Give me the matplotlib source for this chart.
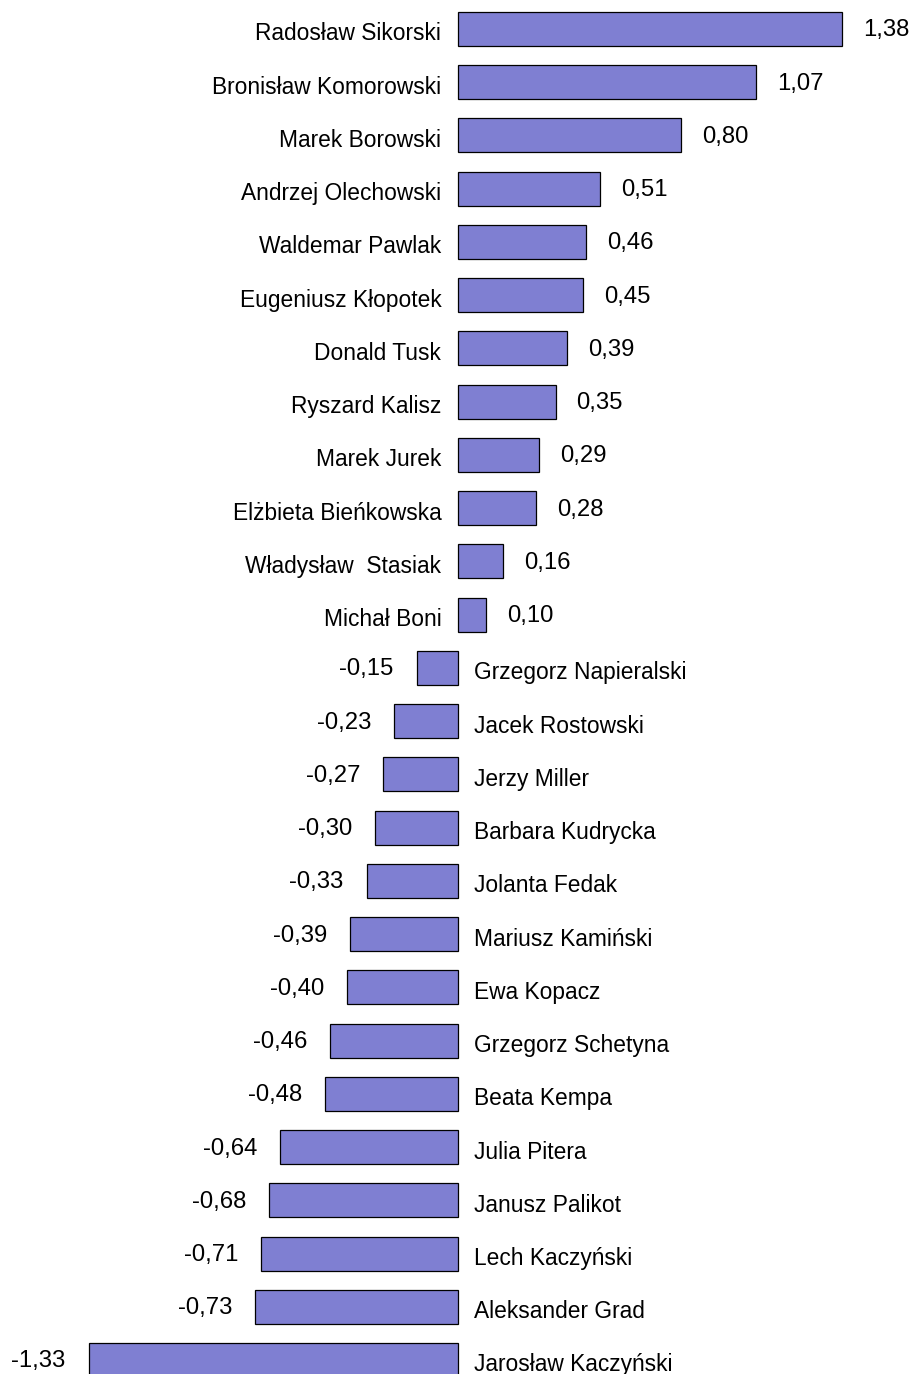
import matplotlib
matplotlib.use("Agg")
import matplotlib.pyplot as plt

names = [
    "Radosław Sikorski", "Bronisław Komorowski", "Marek Borowski", "Andrzej Olechowski",
    "Waldemar Pawlak", "Eugeniusz Kłopotek", "Donald Tusk", "Ryszard Kalisz",
    "Marek Jurek", "Elżbieta Bieńkowska", "Władysław  Stasiak", "Michał Boni",
    "Grzegorz Napieralski", "Jacek Rostowski", "Jerzy Miller", "Barbara Kudrycka",
    "Jolanta Fedak", "Mariusz Kamiński", "Ewa Kopacz", "Grzegorz Schetyna",
    "Beata Kempa", "Julia Pitera", "Janusz Palikot", "Lech Kaczyński",
    "Aleksander Grad", "Jarosław Kaczyński",
]
values = [
    1.38, 1.07, 0.80, 0.51, 0.46, 0.45, 0.39, 0.35, 0.29, 0.28, 0.16, 0.10,
    -0.15, -0.23, -0.27, -0.30, -0.33, -0.39, -0.40, -0.46, -0.48, -0.64,
    -0.68, -0.71, -0.73, -1.33,
]

plt.rcParams['font.family'] = ['Liberation Sans', 'DejaVu Sans']
FS_NAME = 16.4
FS_VAL = 17.2

fig = plt.figure(figsize=(9.15, 13.74), dpi=100)
ax = fig.add_axes([0, 0, 1, 1])
pos = list(range(len(values)))
ax.barh(pos, values, height=0.639, color='#7f7fd2', edgecolor='black', linewidth=0.9)

for i, (n, v) in enumerate(zip(names, values)):
    lab = f"{v:.2f}".replace('.', ',')
    if v >= 0:
        ax.annotate(n, (0, i), xytext=(-17, -11.5), textcoords='offset pixels',
                    ha='right', va='baseline', fontsize=FS_NAME)
        ax.annotate(lab, (v, i), xytext=(21, -7.5), textcoords='offset pixels',
                    ha='left', va='baseline', fontsize=FS_VAL)
    else:
        ax.annotate(n, (0, i), xytext=(16, -11.5), textcoords='offset pixels',
                    ha='left', va='baseline', fontsize=FS_NAME)
        ax.annotate(lab, (v, i), xytext=(-23, -7.5), textcoords='offset pixels',
                    ha='right', va='baseline', fontsize=FS_VAL)

ax.set_xlim(-1.6486, 1.6428)
ax.set_ylim(25.263, -0.5447)
ax.axis('off')
fig.savefig('out.png', dpi=100)
